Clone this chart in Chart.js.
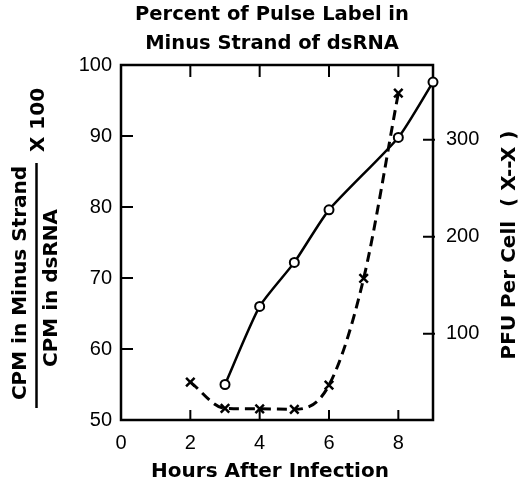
<!DOCTYPE html>
<html>
<head>
<meta charset="utf-8">
<script src="https://cdn.jsdelivr.net/npm/chart.js@4.4.1/dist/chart.umd.min.js"></script>
<style>
  html, body { margin: 0; padding: 0; background: #fff; }
  #wrap { width: 530px; height: 488px; }
</style>
</head>
<body>
<div id="wrap"><canvas id="pulseChart"></canvas></div>
<script>
// valeurs
const minusHours = [3, 4, 5, 6, 8, 9];
const minusPercent = [55, 66, 72.2, 79.6, 89.8, 97.6];
const pfuHours = [2, 3, 4, 5, 6, 7, 8];
const pfuPerCell = [50, 23, 22.5, 22, 47, 157, 348];

const xTicks = [0, 2, 4, 6, 8];
const leftTicks = [50, 60, 70, 80, 90, 100];
const rightTicks = [100, 200, 300];

const titleLines = ["Percent of Pulse Label in", "Minus Strand of dsRNA"];
const xTitle = "Hours After Infection";
const leftTitleTop = "CPM in Minus Strand";
const leftTitleBottom = "CPM in dsRNA";
const leftTitleFactor = "X 100";
const rightTitle = "PFU Per Cell  ( X--X )";

const boldFont = "bold 20px 'DejaVu Sans'";

function rotatedText(ctx, txt, x, y, font) {
  ctx.save();
  ctx.translate(x, y);
  ctx.rotate(-Math.PI / 2);
  ctx.font = font;
  ctx.textAlign = "center";
  ctx.textBaseline = "middle";
  ctx.fillText(txt, 0, 0);
  ctx.restore();
}

// cadre + graduations vers l'interieur
const cadre = {
  id: "cadre",
  beforeDatasetsDraw(chart) {
    const {ctx, chartArea: a, scales} = chart;
    ctx.save();
    ctx.strokeStyle = "#000";
    ctx.lineWidth = 2.5;
    ctx.strokeRect(a.left, a.top, a.right - a.left, a.bottom - a.top);
    ctx.lineWidth = 2;
    ctx.beginPath();
    scales.x.ticks.forEach(t => {
      const px = scales.x.getPixelForValue(t.value);
      if (px <= a.left + 1 || px >= a.right - 1) return;
      ctx.moveTo(px, a.bottom); ctx.lineTo(px, a.bottom - 10);
      ctx.moveTo(px, a.top); ctx.lineTo(px, a.top + 12);
    });
    scales.y.ticks.forEach(t => {
      const py = scales.y.getPixelForValue(t.value);
      if (py <= a.top + 1 || py >= a.bottom - 1) return;
      ctx.moveTo(a.left, py); ctx.lineTo(a.left + 12, py);
    });
    scales.y2.ticks.forEach(t => {
      const py = scales.y2.getPixelForValue(t.value);
      ctx.moveTo(a.right + 2, py); ctx.lineTo(a.right - 10, py);
    });
    ctx.stroke();
    ctx.restore();
  },
  afterDraw(chart) {
    const {ctx} = chart;
    ctx.save();
    ctx.fillStyle = "#000";
    ctx.font = boldFont;
    ctx.textAlign = "center";
    ctx.textBaseline = "middle";
    ctx.fillText(xTitle, 270, 472);
    // titre gauche (fraction)
    rotatedText(ctx, leftTitleTop, 21, 283, boldFont);
    rotatedText(ctx, leftTitleBottom, 52, 288, boldFont);
    rotatedText(ctx, leftTitleFactor, 39, 120, boldFont);
    ctx.strokeStyle = "#000";
    ctx.lineWidth = 2.5;
    ctx.beginPath();
    ctx.moveTo(36.5, 163); ctx.lineTo(36.5, 408);
    ctx.stroke();
    // titre droit
    rotatedText(ctx, rightTitle, 510, 245, boldFont);
    ctx.restore();
  }
};

const tickFont = {family: "'Liberation Sans'", size: 20};

new Chart(document.getElementById("pulseChart"), {
  type: "line",
  data: {
    datasets: [
      {
        label: "Minus strand",
        data: minusHours.map((h, i) => ({x: h, y: minusPercent[i]})),
        yAxisID: "y",
        borderColor: "#000",
        borderWidth: 2.5,
        tension: 0.2,
        pointStyle: "circle",
        pointRadius: 4.5,
        pointBorderWidth: 2,
        pointBackgroundColor: "#fff",
        pointBorderColor: "#000",
        clip: false
      },
      {
        label: "PFU per cell",
        data: pfuHours.map((h, i) => ({x: h, y: pfuPerCell[i]})),
        yAxisID: "y2",
        borderColor: "#000",
        borderWidth: 3,
        borderDash: [10, 6],
        pointStyle: "crossRot",
        pointRadius: 6,
        pointBorderWidth: 2.5,
        pointBorderColor: "#000",
        cubicInterpolationMode: "monotone",
        clip: false
      }
    ]
  },
  options: {
    responsive: true,
    maintainAspectRatio: false,
    devicePixelRatio: 1,
    animation: false,
    layout: {padding: {left: 14, right: 0, top: 0, bottom: 0}},
    plugins: {
      legend: {display: false},
      tooltip: {enabled: false},
      title: {
        display: true,
        text: titleLines,
        color: "#000",
        font: {family: "'DejaVu Sans'", size: 19.5, weight: "bold", lineHeight: "28.5px"},
        padding: {top: 1, bottom: 7}
      }
    },
    scales: {
      x: {
        type: "linear",
        min: 0,
        max: 9,
        afterBuildTicks: s => { s.ticks = xTicks.map(v => ({value: v})); },
        afterFit: s => { s.height = 68; },
        grid: {display: false},
        border: {display: false},
        ticks: {color: "#000", font: tickFont, padding: 3, maxRotation: 0}
      },
      y: {
        type: "linear",
        position: "left",
        min: 50,
        max: 100,
        afterBuildTicks: s => { s.ticks = leftTicks.map(v => ({value: v})); },
        afterFit: s => { s.width = 107; },
        grid: {display: false},
        border: {display: false},
        ticks: {color: "#000", font: tickFont, padding: 1}
      },
      y2: {
        type: "linear",
        position: "right",
        min: 11,
        max: 377,
        afterBuildTicks: s => { s.ticks = rightTicks.map(v => ({value: v})); },
        afterFit: s => { s.width = 97; },
        grid: {display: false},
        border: {display: false},
        ticks: {color: "#000", font: tickFont, padding: 5}
      }
    }
  },
  plugins: [cadre]
});
</script>
</body>
</html>
